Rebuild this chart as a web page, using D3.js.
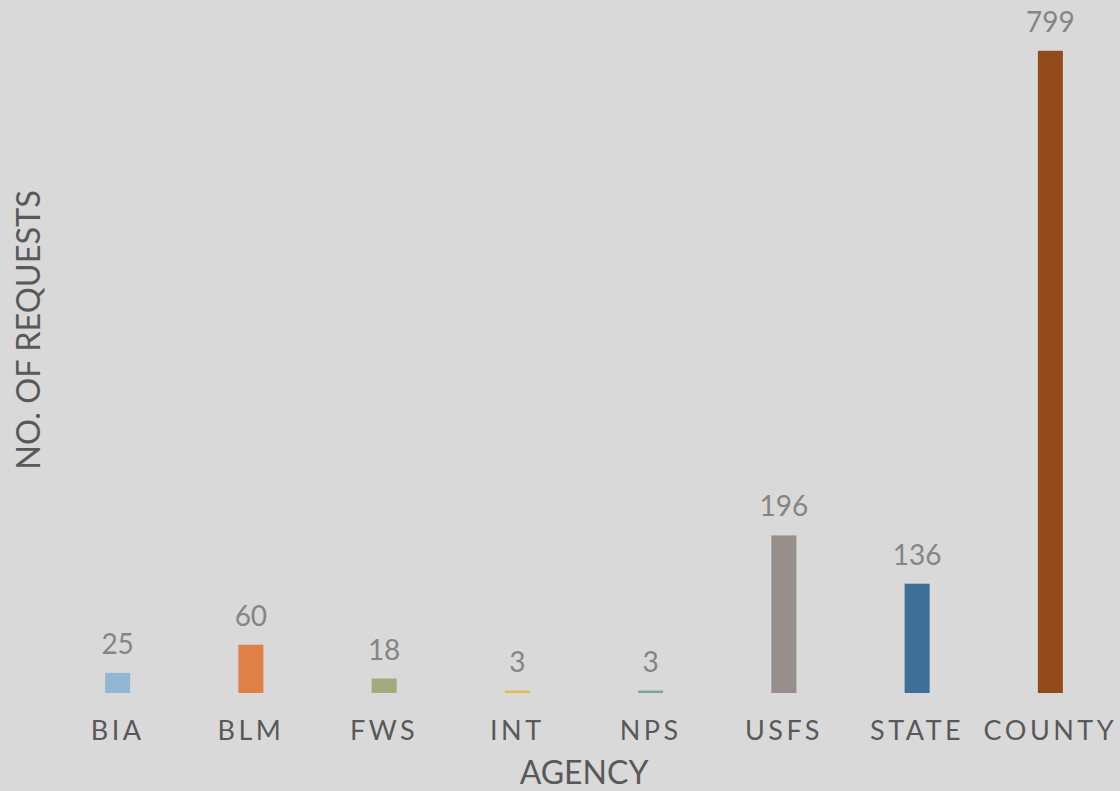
<!DOCTYPE html>
<html>
<head>
<meta charset="utf-8">
<script src="https://cdn.jsdelivr.net/npm/d3@7"></script>
<style>
  html, body { margin: 0; padding: 0; background: #d9d9d9; }
  svg { display: block; }
</style>
</head>
<body>
<svg id="chart" width="1120" height="791"></svg>
<script>
const categories = ["BIA", "BLM", "FWS", "INT", "NPS", "USFS", "STATE", "COUNTY"];
const values = [25, 60, 18, 3, 3, 196, 136, 799];
const colors = ["#94b6d5", "#e08046", "#a3ab7c", "#e8b94a", "#77a898", "#978d8a", "#3f6f98", "#934a1a"];
const xTitle = "AGENCY";
const yTitle = "NO. OF REQUESTS";

const W = 1120, H = 791;
const svg = d3.select("#chart");
svg.append("rect").attr("width", W).attr("height", H).attr("fill", "#d9d9d9");

const pi = 1 - 25 / 133.25;
const x = d3.scaleBand().domain(categories).range([51, 1117]).paddingInner(pi).paddingOuter(pi / 2);
const y = d3.scaleLinear().domain([0, 800]).range([693, 50]);

const font = "Lato, 'Noto Sans', sans-serif";

svg.append("g").selectAll("rect").data(categories).join("rect")
  .attr("x", d => x(d))
  .attr("y", (d, i) => y(values[i]))
  .attr("width", x.bandwidth())
  .attr("height", (d, i) => y(0) - y(values[i]))
  .attr("fill", (d, i) => colors[i]);

svg.append("g").selectAll("text").data(categories).join("text")
  .attr("x", d => x(d) + x.bandwidth() / 2)
  .attr("y", (d, i) => y(values[i]) - 19)
  .attr("text-anchor", "middle")
  .attr("font-family", font)
  .attr("font-size", 28)
  .attr("font-weight", 400)
  .attr("fill", "#858585")
  .text((d, i) => values[i]);

const xAxis = d3.axisBottom(x).tickSize(0).tickPadding(0);
const gx = svg.append("g").attr("transform", `translate(0,${y(0)})`).call(xAxis);
gx.select(".domain").remove();
gx.selectAll("text")
  .attr("dy", 0)
  .attr("y", 47)
  .attr("font-family", font)
  .attr("font-size", 27)
  .attr("letter-spacing", "3.5px")
  .attr("fill", "#595959");

svg.append("text")
  .attr("x", 584).attr("y", 784)
  .attr("text-anchor", "middle")
  .attr("font-family", font)
  .attr("font-size", 32)
  .attr("fill", "#595959")
  .text(xTitle);

svg.append("text")
  .attr("transform", "translate(40,330) rotate(-90)")
  .attr("text-anchor", "middle")
  .attr("font-family", font)
  .attr("font-size", 32.5)
  .attr("fill", "#595959")
  .text(yTitle);
</script>
</body>
</html>
